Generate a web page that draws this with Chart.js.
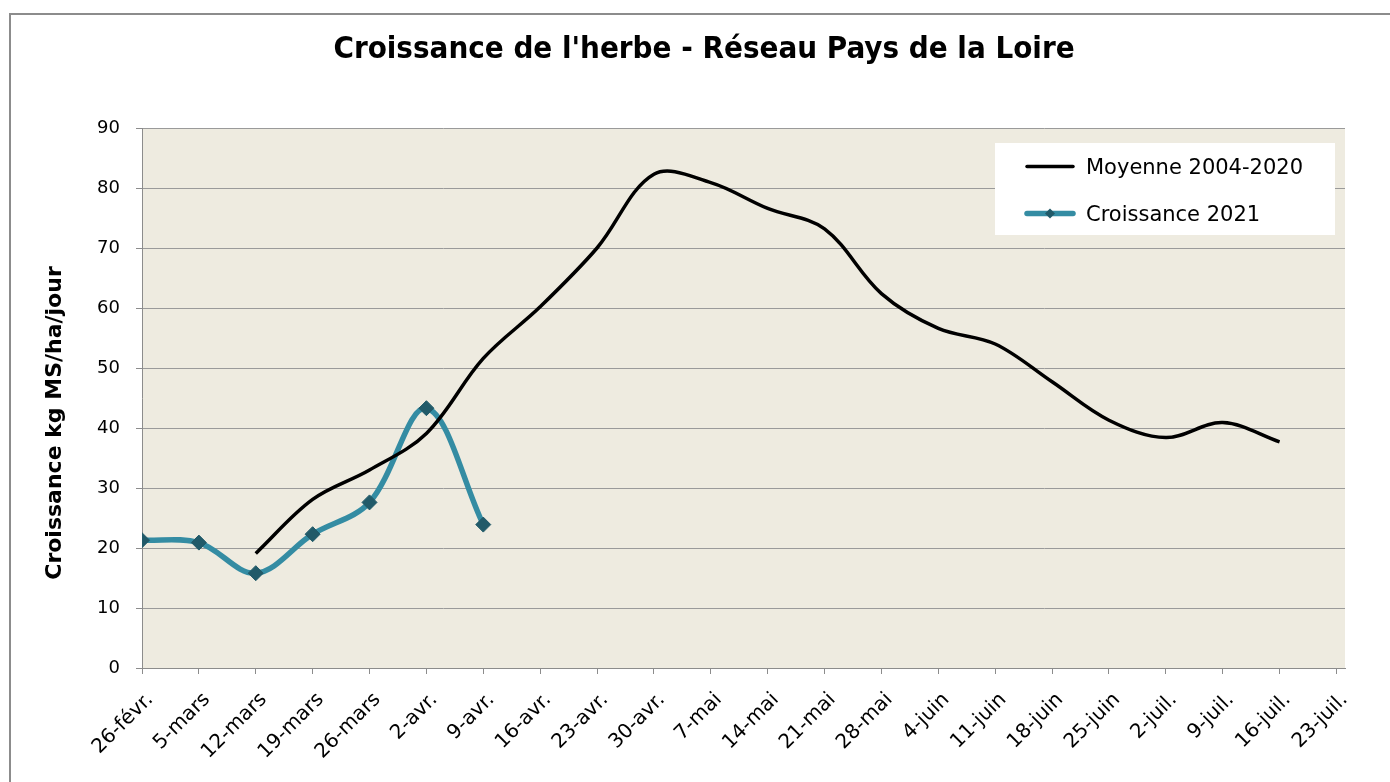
<!DOCTYPE html>
<html>
<head>
<meta charset="utf-8">
<script src="https://cdn.jsdelivr.net/npm/chart.js@4"></script>
<style>
  html, body { margin: 0; padding: 0; background: #fff; overflow: hidden; }
  #wrap { position: relative; width: 1390px; height: 782px; }
  #frame { position: absolute; left: 9px; top: 13px; width: 1400px; height: 800px; border: 2px solid #8c8c8c; box-sizing: border-box; pointer-events: none; }
  canvas { position: absolute; left: 0; top: 0; }
</style>
</head>
<body>
<div id="wrap">
  <canvas id="chart" width="1390" height="782"></canvas>
  <div id="frame"></div>
</div>
<script>
// weekly dates on the x axis
const weekLabels = ["26-févr.", "5-mars", "12-mars", "19-mars", "26-mars", "2-avr.", "9-avr.",
  "16-avr.", "23-avr.", "30-avr.", "7-mai", "14-mai", "21-mai", "28-mai", "4-juin", "11-juin",
  "18-juin", "25-juin", "2-juil.", "9-juil.", "16-juil.", "23-juil."];

// kg MS/ha/jour
const moyenne = [null, null, 19.1, 28.1, 33.0, 39.1, 51.6, 60.2, 70.0, 82.3, 80.9, 76.6,
  73.2, 62.4, 56.6, 54.0, 47.7, 41.3, 38.4, 40.9, 37.7, null];
const croissance2021 = [21.3, 20.9, 15.8, 22.3, 27.6, 43.3, 23.9];

const yTicks = [0, 10, 20, 30, 40, 50, 60, 70, 80, 90];

const chartTitle = "Croissance de l'herbe - Réseau Pays de la Loire";
const yAxisTitle = "Croissance kg MS/ha/jour";

const FONT = "'DejaVu Sans', Verdana, sans-serif";
const FONT_TITLE = "'DejaVu Sans Condensed', 'DejaVu Sans', sans-serif";

const toPoints = arr => arr.map((v, i) => ({ x: i, y: v }));

// beige plot area
const plotBg = {
  id: "plotBg",
  beforeDraw(chart) {
    const { ctx, chartArea: a } = chart;
    ctx.save();
    ctx.fillStyle = "#eeebe0";
    ctx.fillRect(a.left, a.top, a.right - a.left, a.bottom - a.top);
    ctx.restore();
  }
};

// main title + rotated y axis title, placed like the Excel ones
const titles = {
  id: "titles",
  afterDraw(chart) {
    const ctx = chart.ctx;
    ctx.save();
    ctx.fillStyle = "#000";
    ctx.textAlign = "center";
    ctx.textBaseline = "middle";
    ctx.font = "bold 31px " + FONT_TITLE;
    ctx.fillText(chartTitle, 704, 50);

    ctx.translate(55, 423);
    ctx.rotate(-Math.PI / 2);
    ctx.font = "bold 22px " + FONT;
    ctx.fillText(yAxisTitle, 0, 0);
    ctx.restore();
  }
};

// legend box in the top right of the plot
const boxLegend = {
  id: "boxLegend",
  afterDraw(chart) {
    const ctx = chart.ctx;
    const x0 = 995, y0 = 143, w = 340, h = 92;
    ctx.save();
    ctx.fillStyle = "#fff";
    ctx.fillRect(x0, y0, w, h);
    chart.data.datasets.forEach((ds, i) => {
      const y = 166.5 + i * 47;
      ctx.strokeStyle = ds.borderColor;
      ctx.lineWidth = ds.borderWidth;
      ctx.lineCap = "round";
      ctx.beginPath();
      ctx.moveTo(1027, y);
      ctx.lineTo(1073, y);
      ctx.stroke();
      if (ds.pointRadius > 0) {
        ctx.fillStyle = ds.pointBackgroundColor;
        ctx.beginPath();
        ctx.moveTo(1050 - 5, y);
        ctx.lineTo(1050, y - 5);
        ctx.lineTo(1050 + 5, y);
        ctx.lineTo(1050, y + 5);
        ctx.closePath();
        ctx.fill();
      }
      ctx.fillStyle = "#000";
      ctx.font = "21px " + FONT;
      ctx.textAlign = "left";
      ctx.textBaseline = "alphabetic";
      ctx.fillText(ds.label, 1086, y + 7.5);
    });
    ctx.restore();
  }
};

new Chart(document.getElementById("chart"), {
  type: "line",
  data: {
    datasets: [
      {
        label: "Moyenne 2004-2020",
        data: toPoints(moyenne),
        borderColor: "#000000",
        borderWidth: 3.5,
        pointRadius: 0,
        tension: 0.35,
        spanGaps: false
      },
      {
        label: "Croissance 2021",
        data: toPoints(croissance2021),
        borderColor: "#348ca3",
        borderWidth: 5.5,
        pointStyle: "rectRot",
        pointRadius: 7.5,
        pointBackgroundColor: "#215a69",
        pointBorderColor: "#215a69",
        pointBorderWidth: 1,
        tension: 0.35
      }
    ]
  },
  options: {
    responsive: false,
    animation: false,
    layout: { padding: { left: 0, right: 45, top: 128, bottom: 0 } },
    plugins: {
      legend: { display: false },
      tooltip: { enabled: false },
      title: { display: false }
    },
    scales: {
      x: {
        type: "linear",
        min: 0,
        max: weekLabels.length - 1 + 0.15,
        afterFit: s => { s.height = 114; },
        grid: { drawOnChartArea: false, drawTicks: true, tickLength: 6, color: "#8c8c8c" },
        border: { color: "#8c8c8c", width: 1 },
        ticks: {
          stepSize: 1,
          includeBounds: false,
          autoSkip: false,
          maxRotation: 45,
          minRotation: 45,
          padding: 14,
          labelOffset: 8,
          color: "#000",
          font: { family: FONT, size: 20 },
          callback: v => weekLabels[v]
        }
      },
      y: {
        min: yTicks[0],
        max: yTicks[yTicks.length - 1],
        afterFit: s => { s.width = 142; },
        afterBuildTicks: s => { s.ticks = yTicks.map(v => ({ value: v })); },
        grid: { color: "#9a9a9a", lineWidth: 1, tickLength: 6, tickColor: "#8c8c8c" },
        border: { color: "#8c8c8c", width: 1 },
        ticks: {
          padding: 16,
          color: "#000",
          font: { family: FONT, size: 18 }
        }
      }
    }
  },
  plugins: [plotBg, titles, boxLegend]
});
</script>
</body>
</html>
